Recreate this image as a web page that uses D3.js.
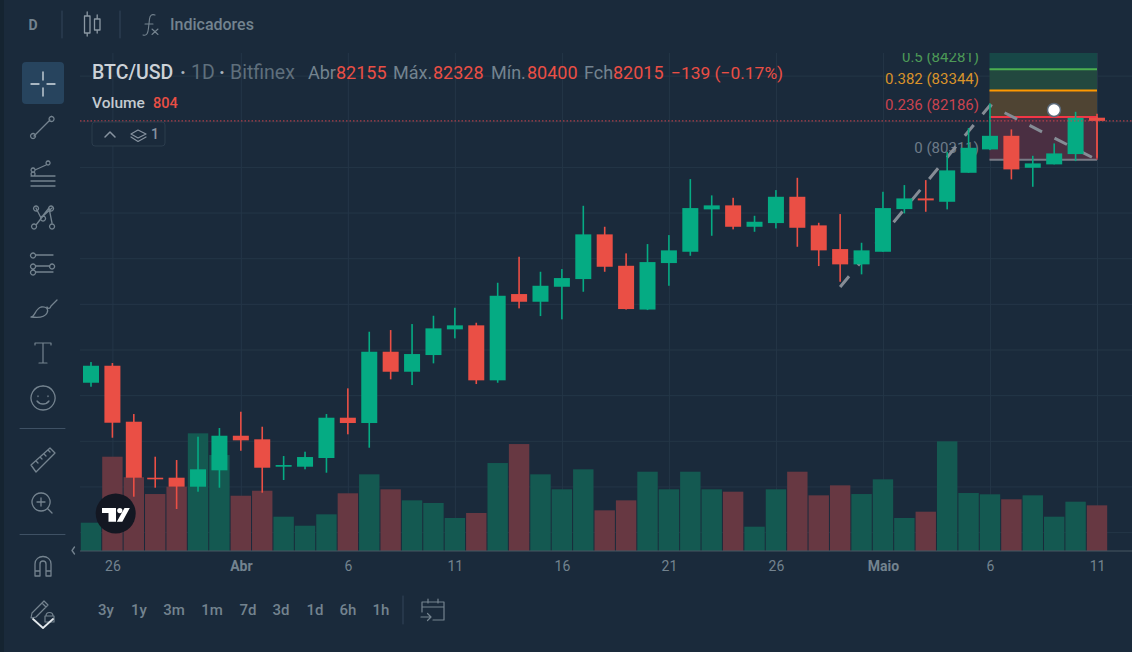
<!DOCTYPE html>
<html>
<head>
<meta charset="utf-8">
<script src="https://cdnjs.cloudflare.com/ajax/libs/d3/7.8.5/d3.min.js"></script>
<style>
  html, body { margin: 0; padding: 0; background: #1a2a3b; overflow: hidden; }
  svg { display: block; font-family: Roboto, sans-serif; }
</style>
</head>
<body>
<div id="chart"></div>
<script>
var opens = [70544,71288,68836,66383,66383,65989,66707,68222,68065,66865,66865,67246,69011,68779,71902,71026,71757,72883,73058,70649,74429,74092,74749,75086,77044,75668,73750,75787,76282,78139,78314,77377,77539,78691,77438,76400,75730,76282,78152,78620,78472,79742,80767,81362,79961,80110,80561,82155]
var highs = [71450,71407,69173,67303,67158,68179,68560,69274,68617,67333,67522,69173,70298,72778,72852,73115,73478,73829,73172,74924,76063,75406,75524,78296,77377,76211,76619,77013,79466,78752,78647,77858,78984,79523,77552,77933,76676,78910,79203,79422,80662,81700,82781,81643,80486,81029,82414,82328]
var lows = [70369,68135,65551,65945,65012,65770,65945,67565,65726,66282,66751,66602,68284,67697,70693,70443,71393,72488,70487,70544,73802,73465,73321,74530,75406,73750,73728,74792,76106,76982,77263,77158,77306,76501,75655,74968,75292,76282,77963,78034,78139,79742,80736,79453,79129,80110,80254,80400]
var closes = [71288,68792,66383,66313,65989,66751,68222,68021,66821,66939,67289,69011,68779,71902,71026,71801,72926,73058,70649,74354,74092,74792,75130,77044,75625,73772,75830,76343,78196,78314,77377,77596,78691,77333,76343,75730,76343,78196,78620,78533,79847,80837,81362,79891,80153,80591,82151,82015]
var volumes = [498,1660,1300,1003,1132,2072,1690,973,1061,604,445,646,1016,1350,1086,892,845,581,669,1549,1883,1350,1086,1438,716,892,1396,1086,1396,1086,1044,428,1086,1396,980,1156,1003,1262,581,692,1931,1021,998,910,980,604,868,804]

var dateTicks = [1, 7, 12, 17, 22, 27, 32, 37, 42, 47]
var dateLabels = ['26', 'Abr', '6', '11', '16', '21', '26', 'Maio', '6', '11']
var priceTicks = [64000, 66000, 68000, 70000, 72000, 74000, 76000, 78000, 80000, 82000, 84000]

var fibRatios = ['0', '0.236', '0.382', '0.5']
var fibPrices = [80311, 82186, 83344, 84281]
var fibColors = ['#787b86', '#f23645', '#ff9800', '#4caf50']
var fibLabelColors = ['#6d7b88', '#c9434f', '#d9932a', '#4d9a57']
var fibFills = ['#4a2f42', '#4f4433', '#22483f', '#174747']
var trendIdx = [35, 42, 47]
var trendPrice = [74735, 82700, 80311]

var periods = ['3y', '1y', '3m', '1m', '7d', '3d', '1d', '6h', '1h']
var periodX = [106, 139, 174, 212, 248, 281, 315, 348, 381]

var width = 1132
var height = 652
var paneLeft = 80
var paneTop = 53
var paneBottom = 551

var upColor = '#05ab83'
var downColor = '#ea4f45'
var gridColor = '#243647'
var mutedColor = '#73838f'
var iconColor = '#74838f'

var x = d3.scaleLinear().domain([0, 47]).range([91, 1097])
var y = d3.scaleLinear().domain([64000, 84000]).range([532.1, 75.6])
var yVol = d3.scaleLinear().domain([0, 2000]).range([paneBottom, paneBottom - 113.6])

var svg = d3.select('#chart').append('svg')
  .attr('width', width)
  .attr('height', height)

svg.append('rect').attr('width', width).attr('height', height).attr('fill', '#1a2a3b')
svg.append('rect').attr('width', 4).attr('height', height).attr('fill', '#152431')

svg.append('clipPath').attr('id', 'pane')
  .append('rect')
  .attr('x', paneLeft).attr('y', paneTop)
  .attr('width', width - paneLeft).attr('height', paneBottom - paneTop)

// grid
var gridY = svg.append('g')
  .attr('transform', 'translate(' + paneLeft + ',0)')
  .call(d3.axisRight(y).tickValues(priceTicks).tickSize(width - paneLeft).tickFormat(''))
gridY.select('.domain').remove()
gridY.selectAll('line').attr('stroke', gridColor)

var gridX = svg.append('g')
  .attr('transform', 'translate(0,' + paneBottom + ')')
  .call(d3.axisTop(x).tickValues(dateTicks).tickSize(paneBottom - paneTop).tickFormat(''))
gridX.select('.domain').remove()
gridX.selectAll('line').attr('stroke', gridColor)

var plot = svg.append('g').attr('clip-path', 'url(#pane)')

// volume
plot.selectAll('.vol')
  .data(volumes)
  .enter()
  .append('rect')
  .attr('class', 'vol')
  .attr('x', function (d, i) { return x(i) - 10.2 })
  .attr('width', 20.4)
  .attr('y', function (d) { return yVol(d) })
  .attr('height', function (d) { return yVol(0) - yVol(d) })
  .attr('fill', function (d, i) { return closes[i] >= opens[i] ? '#145951' : '#673842' })

// fib fills
var fibX0 = x(42) - 0.5
var fibX1 = x(47)
plot.selectAll('.fibfill')
  .data(fibPrices)
  .enter()
  .append('rect')
  .attr('x', fibX0)
  .attr('width', fibX1 - fibX0)
  .attr('y', function (d, i) { return i < 3 ? y(fibPrices[i + 1]) : paneTop })
  .attr('height', function (d, i) { return y(d) - (i < 3 ? y(fibPrices[i + 1]) : paneTop) })
  .attr('fill', function (d, i) { return fibFills[i] })

plot.selectAll('.fibline')
  .data(fibPrices)
  .enter()
  .append('line')
  .attr('x1', fibX0).attr('x2', fibX1)
  .attr('y1', function (d) { return y(d) })
  .attr('y2', function (d) { return y(d) })
  .attr('stroke', function (d, i) { return fibColors[i] })
  .attr('stroke-width', 2)

plot.append('line')
  .attr('x1', fibX1).attr('x2', fibX1)
  .attr('y1', y(fibPrices[1])).attr('y2', y(fibPrices[0]))
  .attr('stroke', '#c9434f').attr('stroke-width', 1.5)

// fib labels
plot.selectAll('.fiblabel')
  .data(fibPrices)
  .enter()
  .append('text')
  .attr('x', 979)
  .attr('y', function (d) { return y(d) - 7 })
  .attr('text-anchor', 'end')
  .attr('font-size', 15)
  .attr('fill', function (d, i) { return fibLabelColors[i] })
  .text(function (d, i) { return fibRatios[i] + ' (' + d + ')' })

// trend line
var trendLine = d3.line()
  .x(function (d) { return x(d) })
  .y(function (d, i) { return y(trendPrice[i]) })
plot.append('path')
  .attr('d', trendLine(trendIdx))
  .attr('fill', 'none')
  .attr('stroke', '#858c95')
  .attr('stroke-width', 3)
  .attr('stroke-dasharray', '14 14')

// candles
var candle = plot.selectAll('.candle')
  .data(opens)
  .enter()
  .append('g')
  .attr('class', 'candle')
  .attr('fill', function (d, i) { return closes[i] >= d ? upColor : downColor })

candle.append('rect')
  .attr('x', function (d, i) { return x(i) - 0.8 })
  .attr('width', 1.6)
  .attr('y', function (d, i) { return y(highs[i]) })
  .attr('height', function (d, i) { return y(lows[i]) - y(highs[i]) })

candle.append('rect')
  .attr('x', function (d, i) { return x(i) - 8 })
  .attr('width', 16)
  .attr('y', function (d, i) { return y(Math.max(d, closes[i])) })
  .attr('height', function (d, i) { return Math.max(1.5, Math.abs(y(d) - y(closes[i]))) })

// last price line
plot.append('line')
  .attr('x1', paneLeft).attr('x2', width)
  .attr('y1', y(closes[47])).attr('y2', y(closes[47]))
  .attr('stroke', '#d0444c')
  .attr('stroke-width', 1)
  .attr('stroke-dasharray', '1.5 2')

// drawing handle
svg.append('circle')
  .attr('cx', 1054).attr('cy', 110).attr('r', 6.5)
  .attr('fill', '#fff').attr('stroke', '#5b6a7a').attr('stroke-width', 1.5)

// baseline + date axis
var axisX = svg.append('g')
  .attr('transform', 'translate(0,' + paneBottom + ')')
  .call(d3.axisBottom(x)
    .tickValues(dateTicks)
    .tickSize(0)
    .tickPadding(10)
    .tickFormat(function (d, i) { return dateLabels[i] }))
axisX.select('.domain').remove()
axisX.selectAll('text')
  .attr('font-family', 'Roboto, sans-serif')
  .attr('font-size', 14)
  .attr('fill', mutedColor)
  .attr('font-weight', function (d, i) { return isNaN(dateLabels[i]) ? 700 : 400 })
svg.append('line')
  .attr('x1', paneLeft).attr('x2', width)
  .attr('y1', paneBottom).attr('y2', paneBottom)
  .attr('stroke', '#465663').attr('stroke-width', 1.2)

// legend
var legendParts = [
  ['BTC/USD', 92, '#ccd2d8', 500, 19.5],
  ['·', 180, '#aab4bc', 700, 19.5],
  ['1D', 191, '#5f6f7c', 400, 19.5],
  ['·', 219, '#aab4bc', 700, 19.5],
  ['Bitfinex', 230, '#5f6f7c', 400, 19.5],
  ['Abr', 308, mutedColor, 400, 18],
  ['82155', 336, downColor, 400, 18],
  ['Máx.', 393, mutedColor, 400, 18],
  ['82328', 433, downColor, 400, 18],
  ['Mín.', 491, mutedColor, 400, 18],
  ['80400', 527, downColor, 400, 18],
  ['Fch', 584, mutedColor, 400, 18],
  ['82015', 613, downColor, 400, 18],
  ['−139 (−0.17%)', 671, downColor, 400, 17.4]
]
svg.selectAll('.legend')
  .data(legendParts)
  .enter()
  .append('text')
  .attr('x', function (d) { return d[1] })
  .attr('y', 79)
  .attr('font-size', function (d) { return d[4] })
  .attr('fill', function (d) { return d[2] })
  .attr('font-weight', function (d) { return d[3] })
  .text(function (d) { return d[0] })

svg.append('text').attr('x', 92).attr('y', 108).attr('font-size', 15.5).attr('font-weight', 500)
  .attr('fill', '#c3cad0').text('Volume')
svg.append('text').attr('x', 153).attr('y', 108).attr('font-size', 14.5).attr('font-weight', 500)
  .attr('fill', downColor).text('804')

// collapse widget
svg.append('rect').attr('x', 92).attr('y', 122).attr('width', 73).attr('height', 24).attr('rx', 3)
  .attr('fill', '#1a2a3b').attr('stroke', '#2b3c4d')
function icon(d, w, col) {
  return svg.append('path').attr('d', d).attr('fill', 'none')
    .attr('stroke', col || iconColor).attr('stroke-width', w || 1.3)
    .attr('stroke-linecap', 'round').attr('stroke-linejoin', 'round')
}
icon('M105 137L110 132L115 137', 1.5, '#8793a0')
icon('M131 134L138 130L146 134L138 138ZM131 137L138 141.5L146 137', 1.2, '#8793a0')
svg.append('text').attr('x', 151).attr('y', 139).attr('font-size', 14).attr('font-weight', 500)
  .attr('fill', '#8793a0').text('1')

// top toolbar
svg.append('text').attr('x', 33).attr('y', 30).attr('text-anchor', 'middle')
  .attr('font-size', 14).attr('font-weight', 700).attr('fill', mutedColor).text('D')
icon('M62 11V38M120 11V38', 1, '#33455a')
icon('M84.5 16H90V33H84.5ZM87.2 12V16M87.2 33V36M94.5 19H100V30H94.5ZM97.2 15V19M97.2 30V33', 1.3, '#8b98a3')
icon('M143 35C147 36 148 33 148.5 28L149.5 19C150 15 152 14 155 15M145 24H153', 1.1)
icon('M152 29L158 34.5M158 29L152 34.5', 1.1)
svg.append('text').attr('x', 170).attr('y', 30).attr('font-size', 16).attr('font-weight', 500)
  .attr('fill', mutedColor).text('Indicadores')

// side tools
svg.append('rect').attr('x', 22).attr('y', 62).attr('width', 42).attr('height', 42).attr('rx', 4)
  .attr('fill', '#27445e')
icon('M31 84H39M47 84H55M43 72V80M43 88V96', 1.3, '#d5dde3')
icon('M34 136L50 120M51.5 116.5a2.5 2.5 0 1 0 .1 0M33 133.5a2.5 2.5 0 1 0 .1 0')
icon('M31 176H55M31 181H55M31 186H55M35 170L46 165M33 168a2 2 0 1 0 .1 0M48 161a2 2 0 1 0 .1 0M33 172a2 2 0 1 0 .1 0')
icon('M36 208L41 218L49 208L52 223M36 225L43 216L52 208M36 206a2.5 2.5 0 1 0 .1 0M51 206a2.5 2.5 0 1 0 .1 0M34 224a2.5 2.5 0 1 0 .1 0M52 224a2.5 2.5 0 1 0 .1 0M43 216a2.5 2.5 0 1 0 .1 0')
icon('M36 255H53M36 266H50M36 272H53M33 253a2.5 2.5 0 1 0 .1 0M33 264a2.5 2.5 0 1 0 .1 0M33 270a2.5 2.5 0 1 0 .1 0M52 264a2.5 2.5 0 1 0 .1 0')
icon('M31 317C35 317 35 309 41 307C46 306 49 309 47 313C45 317 38 318 31 317ZM47 307C48 309 50 309 51 306L57 300')
icon('M35 345V343H51V345M43 343V363M39 363H47', 1.2)
icon('M43 386a12 12 0 1 0 .1 0M38 396v.5M48 396v.5M37 401C40 405 46 405 49 401')
icon('M20 428.5H65M20 534.5H65', 1, '#3f5164')
icon('M31 465L50 448L55 453L36 472ZM36 461L38 463M40 457L42 459M44 454L46 456M48 450L50 452')
icon('M41 493a9 9 0 1 0 .1 0M37 502H45M41 498V506M47.5 508.5L52 513')
icon('M74.5 547L72 550.5L74.5 554', 1.3)
icon('M35 576V564C35 554 51 554 51 564V576H46V564C46 560 40 560 40 564V576ZM35 571H40M46 571H51')
icon('M32 613L44 601L48 605L36 617L31 618ZM42 603L46 607M46 616a3.5 3.5 0 1 1 7 0M45 616H54V622H45Z', 1.2)
icon('M33 619L43 628L53 619', 1.8, '#e3e8ec')

// TV logo
svg.append('circle').attr('cx', 115.7).attr('cy', 513.5).attr('r', 20).attr('fill', '#131722')
svg.append('path').attr('fill', '#fff')
  .attr('d', 'M102 508H116V521.7H108.5V513H102ZM124.5 508H129.8L122.3 521.7H116.8Z')
svg.append('circle').attr('cx', 119.8).attr('cy', 510.6).attr('r', 2.6).attr('fill', '#fff')

// periods
svg.selectAll('.period')
  .data(periods)
  .enter()
  .append('text')
  .attr('x', function (d, i) { return periodX[i] })
  .attr('y', 615)
  .attr('text-anchor', 'middle')
  .attr('font-size', 15)
  .attr('font-weight', 500)
  .attr('fill', mutedColor)
  .text(function (d) { return d })

icon('M403 596V624', 1, '#33455a')
icon('M422 612V602H444V620H433M422 607H444M428 599V603M438 599V603M421 617H431M427.5 613.5L431 617L427.5 620.5', 1.2)
</script>
</body>
</html>
